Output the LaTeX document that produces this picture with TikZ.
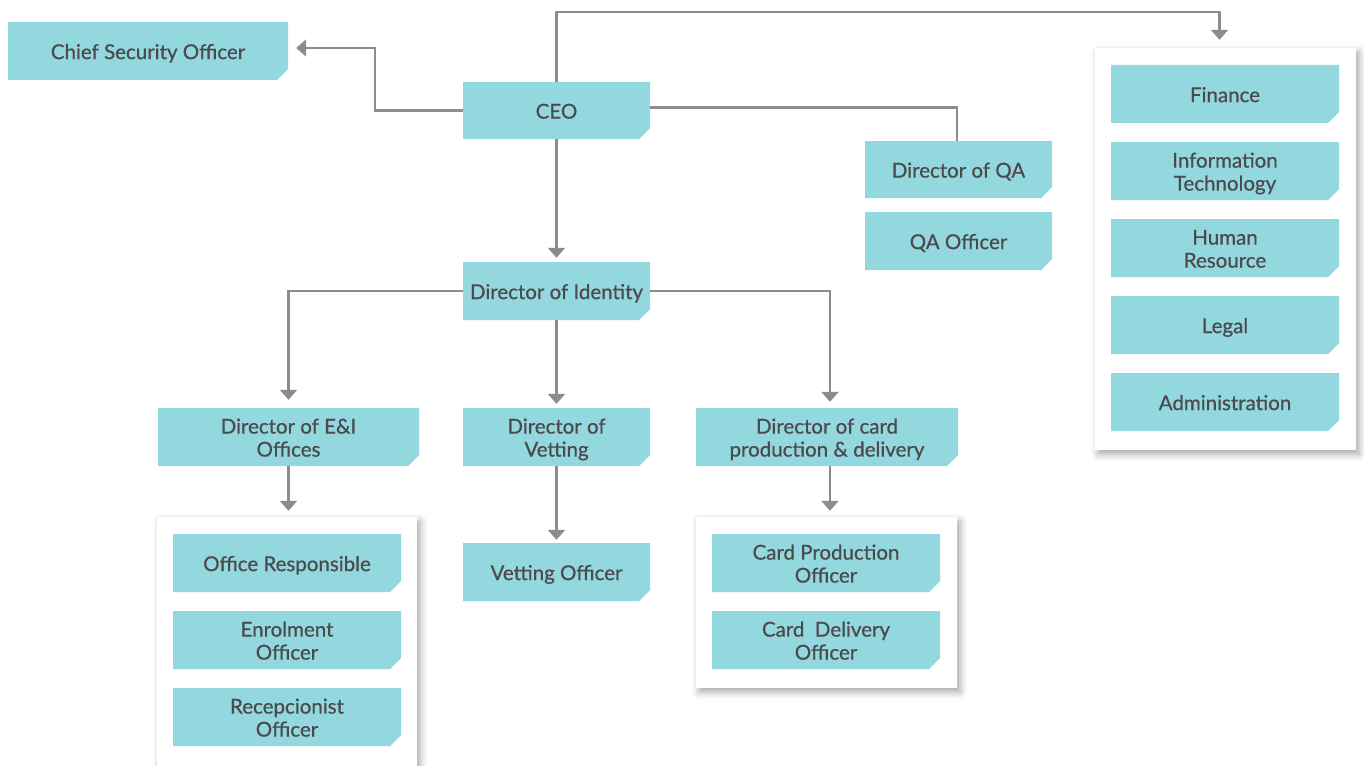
\documentclass[tikz,border=0pt]{standalone}
\usepackage{fontspec}
\setmainfont{Lato}
\newfontfamily\boxfont{Lato}[FakeBold=0.6]
\usetikzlibrary{arrows.meta,shadows.blur}
\definecolor{boxc}{HTML}{93D7DF}
\definecolor{linec}{HTML}{8E8B90}
\definecolor{txt}{HTML}{4B4A4D}
\newcommand\lbl[1]{\raisebox{-3.5pt}[\height][\depth]{\begin{tabular}{@{}c@{}}#1\end{tabular}}}
\tikzset{
 cb/.style={rectangle, inner sep=0pt, text=txt, align=center,
   font=\boxfont\fontsize{20.5}{23}\selectfont,
   path picture={\fill[boxc] (path picture bounding box.north west) -- (path picture bounding box.north east)
     -- ([yshift=11pt]path picture bounding box.south east) -- ([xshift=-11pt]path picture bounding box.south east)
     -- (path picture bounding box.south west) -- cycle;}},
 conn/.style={draw=linec, line width=2.4pt},
 arr/.style={conn, -{Triangle[width=17pt,length=10pt]}},
 panel/.style={rectangle, fill=white, inner sep=0pt,
   blur shadow={shadow xshift=3pt, shadow yshift=-4pt, shadow blur radius=7pt, shadow opacity=35}}
}
\begin{document}
\begin{tikzpicture}[x=1pt,y=-1pt]
\useasboundingbox (0,0) rectangle (1364,765);
\clip (0,0) rectangle (1364,765);
% panels
\node[panel, minimum width=261pt, minimum height=402pt] (RP) at (1225.5,249) {};
\node[panel, minimum width=260pt, minimum height=280pt] (LP) at (287,657) {};
\node[panel, minimum width=261pt, minimum height=171pt] (CP) at (826.5,602.5) {};
% boxes
\node[cb, minimum width=280pt, minimum height=58pt] (CSO) at (148,51) {\lbl{Chief Security Officer}};
\node[cb, minimum width=187pt, minimum height=57pt] (CEO) at (556.5,110.5) {\lbl{CEO}};
\node[cb, minimum width=187pt, minimum height=58pt] (DOI) at (556.5,291) {\lbl{Director of Identity}};
\node[cb, minimum width=187pt, minimum height=57pt] (DQA) at (958.5,169.5) {\lbl{Director of QA}};
\node[cb, minimum width=187pt, minimum height=58pt] (QAO) at (958.5,241) {\lbl{QA Officer}};
\node[cb, minimum width=228pt, minimum height=58pt] (FIN) at (1225,94) {\lbl{Finance}};
\node[cb, minimum width=228pt, minimum height=58pt] (IT) at (1225,171) {\lbl{Information\\Technology}};
\node[cb, minimum width=228pt, minimum height=58pt] (HR) at (1225,248) {\lbl{Human\\Resource}};
\node[cb, minimum width=228pt, minimum height=58pt] (LEG) at (1225,325) {\lbl{Legal}};
\node[cb, minimum width=228pt, minimum height=58pt] (ADM) at (1225,402) {\lbl{Administration}};
\node[cb, minimum width=261pt, minimum height=58pt] (DEI) at (288.5,437) {\lbl{Director of E\&I\\Offices}};
\node[cb, minimum width=187pt, minimum height=58pt] (DV) at (556.5,437) {\lbl{Director of\\Vetting}};
\node[cb, minimum width=262pt, minimum height=58pt] (DCP) at (827,437) {\lbl{Director of card\\production \& delivery}};
\node[cb, minimum width=228pt, minimum height=58pt] (OR) at (287,563) {\lbl{Office Responsible}};
\node[cb, minimum width=228pt, minimum height=58pt] (EO) at (287,640) {\lbl{Enrolment\\Officer}};
\node[cb, minimum width=228pt, minimum height=58pt] (RO) at (287,717) {\lbl{Recepcionist\\Officer}};
\node[cb, minimum width=187pt, minimum height=58pt] (VO) at (556.5,572) {\lbl{Vetting Officer}};
\node[cb, minimum width=228pt, minimum height=58pt] (CPO) at (826,563) {\lbl{Card Production\\Officer}};
\node[cb, minimum width=228pt, minimum height=58pt] (CDO) at (826,640) {\lbl{Card~ Delivery\\Officer}};
% connectors
\draw[arr] (CEO.west) -- ++(-88,0) |- ([xshift=8pt,yshift=3pt]CSO.east);
\draw[arr] (CEO.north) -- ++(0,-70) -| ([xshift=-6pt,yshift=8pt]RP.north);
\draw[conn] ([yshift=3pt]CEO.east) -| ([xshift=-1.5pt]DQA.north);
\draw[arr] (CEO.south) -- ([yshift=4pt]DOI.north);
\draw[arr] (DOI.west) -| ([yshift=8pt]DEI.north);
\draw[arr] (DOI.south) -- ([yshift=4pt]DV.north);
\draw[arr] (DOI.east) -| ([xshift=3pt,yshift=6pt]DCP.north);
\draw[arr] (DEI.south) -- ([yshift=6pt]DEI.south |- LP.north);
\draw[arr] (DV.south) -- ([yshift=3pt]VO.north);
\draw[arr] ([xshift=3pt]DCP.south) -- ([xshift=3pt,yshift=6pt]DCP.south |- CP.north);
\end{tikzpicture}
\end{document}
